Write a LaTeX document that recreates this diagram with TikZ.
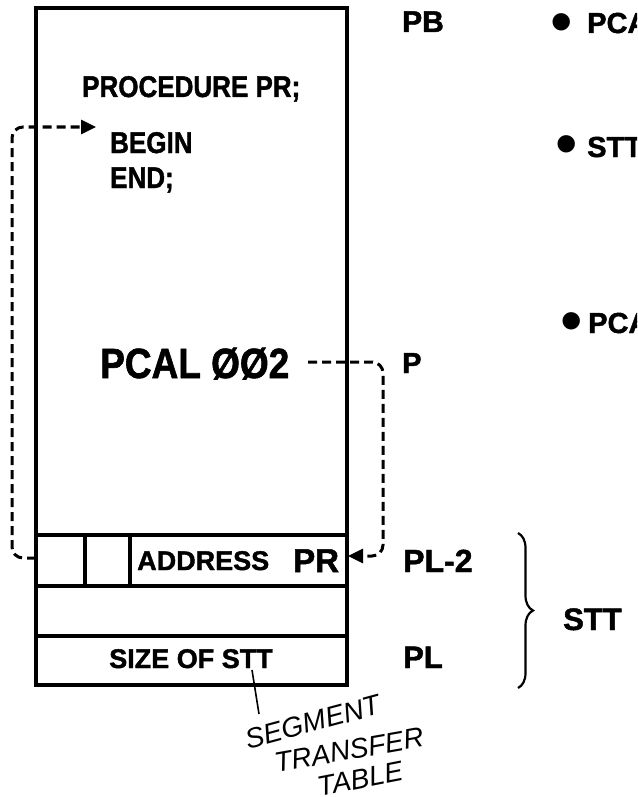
\documentclass[tikz,border=0pt]{standalone}
\usepackage{fontspec}
\usepackage{graphicx}
\setmainfont{Liberation Sans}[BoldFeatures={FakeBold=1.5}]
\usetikzlibrary{arrows.meta,decorations.pathreplacing}
\newcommand\fsz[1]{\fontsize{#1}{#1}\selectfont}
\newcommand\tallt[2][1.15]{\scalebox{1}[#1]{#2}}
\tikzset{
 lbl/.style={inner sep=0pt, anchor=base west},
 boxln/.style={line width=3.5pt},
 dashln/.style={line width=3pt, dash pattern=on 9pt off 5pt, rounded corners=11pt},
 tiptri/.style={-{Triangle[length=15pt,width=14pt]}},
 hand/.style={inner sep=0pt, font=\itshape\fsz{28}},
 bul/.style={inner sep=0pt, font=\fsz{64}},
}
\begin{document}
\begin{tikzpicture}[x=1pt,y=-1pt]
\useasboundingbox (0,0) rectangle (637,797);
\clip (0,0) rectangle (637,797);
% main box
\draw[boxln] (36,8) rectangle (347,685);
\draw[boxln] (36,535) -- (347,535) (36,586) -- (347,586) (36,636) -- (347,636);
\draw[boxln] (85,535) -- (85,586) (130,535) -- (130,586);
% texts in box
\node[lbl, font=\bfseries\fsz{26}] (proc) at (82,97) {\tallt{PROCEDURE PR;}};
\node[lbl, font=\bfseries\fsz{26}] (begin) at (110,153) {\tallt{BEGIN}};
\node[lbl, font=\bfseries\fsz{26}] (endn) at (110,188) {\tallt{END;}};
\node[lbl, font=\bfseries\fsz{37}] (pcal) at (100,378) {\tallt[1.14]{PCAL ØØ2}};
\node[lbl, font=\bfseries\fsz{27}] (addr) at (137,570) {ADDRESS};
\node[lbl, font=\bfseries\fsz{33}] (pr) at (293,572) {PR};
\node[inner sep=0pt, anchor=base, font=\bfseries\fsz{27}] (size) at (191,668) {SIZE OF STT};
% right labels
\node[lbl, font=\bfseries\fsz{30}] (pb) at (402,32) {PB};
\node[lbl, font=\bfseries\fsz{29}] (p) at (402,373) {P};
\node[lbl, font=\bfseries\fsz{32}] (pl2) at (403,572) {PL-2};
\node[lbl, font=\bfseries\fsz{31}] (pl) at (403,668) {PL};
\node[lbl, font=\bfseries\fsz{31}] (stt) at (563,630) {STT};
% bullets
\node[bul] (b1) at (562,29) {•};
\node[lbl, font=\bfseries\fsz{29}] (t1) at (587,33) {PCAL};
\node[bul] (b2) at (567,151) {•};
\node[lbl, font=\bfseries\fsz{29}] (t2) at (587,157) {STT};
\node[bul] (b3) at (572,328) {•};
\node[lbl, font=\bfseries\fsz{29}] (t3) at (588,333) {PCAL};
% dashed connectors
\coordinate (aL) at (36,558);
\coordinate (bA) at (96,127);
\draw[dashln, tiptri] (aL) -| (12,127) -- (bA);
\coordinate (pE) at (308,362);
\coordinate (aR) at (348,556);
\draw[dashln, tiptri] (pE) -| (383,556) -- (aR);
% brace
\draw[line width=2.2pt, decorate, decoration={brace, amplitude=15pt}] (518,533) -- (518,688);
% handwritten note
\coordinate (sttT) at (252,670);
\coordinate (noteTop) at (259,714);
\draw[line width=1.6pt] (sttT) -- (noteTop);
\node[hand, rotate=15] (seg) at (313,722) {SEGMENT};
\node[hand, rotate=10] (tra) at (349,750) {TRANSFER};
\node[hand, rotate=11] (tab) at (360,779) {TABLE};
\end{tikzpicture}
\end{document}
